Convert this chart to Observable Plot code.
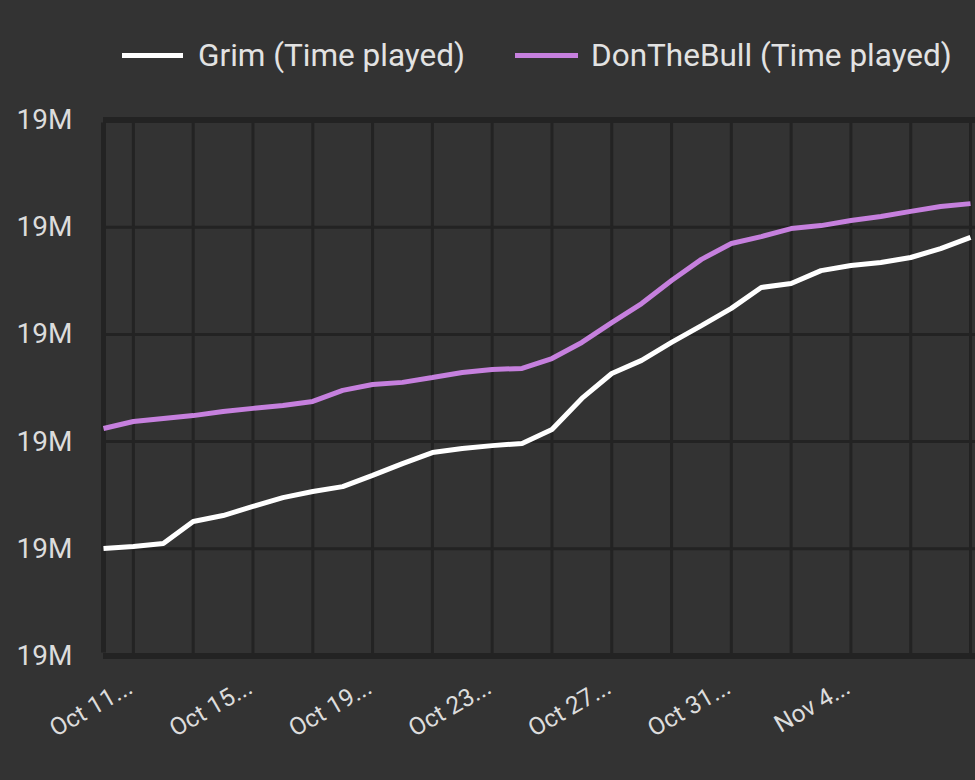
<!DOCTYPE html>
<html>
<head>
<meta charset="utf-8">
<script src="https://cdn.jsdelivr.net/npm/d3@7"></script>
<script src="https://cdn.jsdelivr.net/npm/@observablehq/plot@0.6"></script>
<style>
  html, body { margin: 0; padding: 0; background: #333333; }
  body { width: 975px; height: 780px; overflow: hidden; font-family: Roboto, sans-serif; }
  #legend { position: relative; height: 100px; width: 975px; }
  .sw { position: absolute; height: 5px; }
  .lt { position: absolute; font-size: 31.5px; color: #e2e2e2; line-height: normal; white-space: nowrap; }
  #chart svg { display: block; }
</style>
</head>
<body>
<div id="legend">
  <div class="sw" style="left:122px; top:53px; width:61px; background:#ffffff;"></div>
  <div class="lt" id="l1" style="left:198px; top:37px;"></div>
  <div class="sw" style="left:515px; top:53px; width:63px; background:#c680de;"></div>
  <div class="lt" id="l2" style="left:591px; top:37px;"></div>
</div>
<div id="chart"></div>
<script>
// ---- data ----
const seriesNames = ["Grim (Time played)", "DonTheBull (Time played)"];
const seriesColors = ["#ffffff", "#c680de"];
const dates = [
  "2023-10-10","2023-10-11","2023-10-12","2023-10-13","2023-10-14","2023-10-15",
  "2023-10-16","2023-10-17","2023-10-18","2023-10-19","2023-10-20","2023-10-21",
  "2023-10-22","2023-10-23","2023-10-24","2023-10-25","2023-10-26","2023-10-27",
  "2023-10-28","2023-10-29","2023-10-30","2023-10-31","2023-11-01","2023-11-02",
  "2023-11-03","2023-11-04","2023-11-05","2023-11-06","2023-11-07","2023-11-08"
];
const grim = [
  19004010, 19004090, 19004200, 19005020, 19005240, 19005580,
  19005910, 19006140, 19006320, 19006740, 19007180, 19007590,
  19007740, 19007850, 19007930, 19008450, 19009610, 19010540,
  19011030, 19011700, 19012330, 19012970, 19013750, 19013900,
  19014380, 19014570, 19014680, 19014870, 19015200, 19015620
];
const donTheBull = [
  19008490, 19008750, 19008860, 19008970, 19009120, 19009240,
  19009350, 19009500, 19009910, 19010130, 19010210, 19010390,
  19010580, 19010690, 19010730, 19011100, 19011700, 19012440,
  19013150, 19014010, 19014800, 19015390, 19015650, 19015950,
  19016060, 19016250, 19016400, 19016590, 19016770, 19016880
];
const yTicks = [19000000, 19004000, 19008000, 19012000, 19016000, 19020000];
const gridDates = [
  "2023-10-11","2023-10-13","2023-10-15","2023-10-17","2023-10-19","2023-10-21",
  "2023-10-23","2023-10-25","2023-10-27","2023-10-29","2023-10-31","2023-11-02",
  "2023-11-04","2023-11-06","2023-11-08"
];
const tickDates = ["2023-10-11","2023-10-15","2023-10-19","2023-10-23","2023-10-27","2023-10-31","2023-11-04"];
const tickLabels = ["Oct 11...","Oct 15...","Oct 19...","Oct 23...","Oct 27...","Oct 31...","Nov 4..."];
const xDomain = ["2023-10-10T00:00:00Z", "2023-11-08T04:00:00Z"];

// ---- build ----
document.getElementById("l1").textContent = seriesNames[0];
document.getElementById("l2").textContent = seriesNames[1];

const toDate = s => new Date(s.length === 10 ? s + "T00:00:00Z" : s);
const grimData = dates.map((d, i) => ({date: toDate(d), value: grim[i]}));
const donData = dates.map((d, i) => ({date: toDate(d), value: donTheBull[i]}));
const gridD = gridDates.map(toDate);
const tickD = tickDates.map(toDate);

const gridColor = "#232323";
const chart = Plot.plot({
  width: 975,
  height: 680,
  marginLeft: 103,
  marginRight: 0,
  marginTop: 19.5,
  marginBottom: 124.5,
  style: {background: "#333333", fontFamily: "Roboto, sans-serif"},
  x: {type: "utc", domain: xDomain.map(toDate), axis: null, label: null},
  y: {domain: [yTicks[0], yTicks[yTicks.length - 1]], axis: null, label: null},
  marks: [
    Plot.ruleX(gridD, {x: d => d, stroke: gridColor, strokeWidth: 3}),
    Plot.ruleY(yTicks, {y: d => d, stroke: gridColor, strokeWidth: 3}),
    Plot.ruleY([yTicks[0], yTicks[yTicks.length - 1]], {y: d => d, stroke: gridColor, strokeWidth: 6}),
    Plot.ruleX([toDate(dates[0])], {x: d => d, stroke: gridColor, strokeWidth: 5, y1: yTicks[0], y2: yTicks[yTicks.length - 1], insetTop: -3, insetBottom: -3}),
    Plot.line(donData, {x: "date", y: "value", stroke: seriesColors[1], strokeWidth: 5, strokeLinejoin: "miter", strokeLinecap: "butt"}),
    Plot.line(grimData, {x: "date", y: "value", stroke: seriesColors[0], strokeWidth: 5, strokeLinejoin: "miter", strokeLinecap: "butt"}),
    Plot.axisY(yTicks, {tickSize: 0, tickPadding: 31, tickFormat: d3.format(".2s"), fontSize: 28, fill: "#dcdcdc", label: null}),
    Plot.text(tickD, {
      x: d => d,
      text: (d, i) => tickLabels[i],
      frameAnchor: "bottom",
      dx: 1,
      dy: 36,
      rotate: -30,
      textAnchor: "end",
      lineAnchor: "bottom",
      fontSize: 24.5,
      fill: "#dcdcdc"
    })
  ]
});
document.getElementById("chart").appendChild(chart);
</script>
</body>
</html>
